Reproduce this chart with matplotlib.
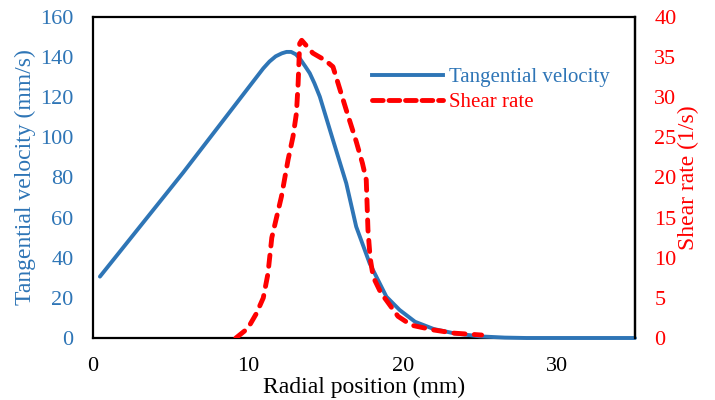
import matplotlib
matplotlib.use("Agg")
import matplotlib.pyplot as plt
from matplotlib.lines import Line2D

plt.rcParams['font.family'] = ['Liberation Serif', 'DejaVu Serif']

# Tangential velocity (mm/s) vs radial position (mm)
vel_x = [0.45, 5.83, 11.0, 11.4, 11.8, 12.2, 12.5, 12.8, 13.1, 13.35, 13.7, 14.0, 14.3,
         14.65, 15.5, 16.36, 17.0, 17.87, 18.95, 19.8, 20.8, 22.0, 23.35, 25.0, 26.6,
         28.0, 35.0]
vel_y = [30.6, 82.5, 134.4, 137.8, 140.4, 141.9, 142.6, 142.6, 141.4, 139.4, 135.5,
         132.0, 127.0, 120.3, 98.7, 77.1, 55.5, 37.2, 20.6, 14.0, 8.1, 4.5, 2.3, 0.8,
         0.2, 0.0, 0.0]

# Shear rate (1/s) vs radial position (mm)
shear_x = [9.23, 10.0, 10.56, 11.0, 11.3, 11.55, 12.17, 12.6, 12.92, 13.14, 13.25,
           13.35, 13.48, 14.2, 15.0, 15.5, 16.36, 17.0, 17.4, 17.65, 17.76, 17.9,
           18.1, 18.6, 18.95, 19.7, 20.56, 22.0, 23.35, 25.1]
shear_y = [0.0, 1.2, 3.07, 5.0, 8.0, 12.5, 17.6, 22.2, 25.1, 28.0, 31.7,
           36.7, 37.1, 35.5, 34.6, 33.8, 28.4, 24.5, 21.8, 19.7, 13.5, 10.0,
           7.6, 5.6, 4.7, 2.7, 1.6, 1.0, 0.6, 0.37]

x_ticks = [0, 10, 20, 30]
left_ticks = [0, 20, 40, 60, 80, 100, 120, 140, 160]
right_ticks = [0, 5, 10, 15, 20, 25, 30, 35, 40]

blue = '#2E75B6'
red = '#FF0000'

fig = plt.figure(figsize=(7.15, 4.0), dpi=100)
ax1 = fig.add_axes([0.130, 0.155, 0.758, 0.8025])
ax2 = ax1.twinx()

ax1.plot(vel_x, vel_y, color=blue, lw=2.8, solid_capstyle='round',
         solid_joinstyle='round', zorder=3, clip_on=False)
ax2.plot(shear_x, shear_y, color=red, lw=3.5, linestyle=(0, (2.3, 1.9)),
         dash_capstyle='round', dash_joinstyle='round', zorder=3)

ax1.set_xlim(0, 35)
ax1.set_ylim(0, 160)
ax2.set_ylim(0, 40)
ax1.set_xticks(x_ticks)
ax1.set_yticks(left_ticks)
ax2.set_yticks(right_ticks)

for sp in ax1.spines.values():
    sp.set_color('black')
    sp.set_linewidth(1.6)
for name in ['top', 'bottom', 'left']:
    ax2.spines[name].set_visible(False)
ax2.spines['right'].set_linewidth(1.6)

ax1.tick_params(axis='x', length=0, pad=14, labelsize=16, labelcolor='black')
ax1.tick_params(axis='y', length=0, pad=14, labelsize=16, labelcolor=blue)
ax2.tick_params(axis='y', length=0, pad=14, labelsize=16, labelcolor=red)

ax1.set_xlabel('Radial position (mm)', fontsize=17, labelpad=0.5)
ax1.set_ylabel('Tangential velocity (mm/s)', fontsize=17, color=blue, labelpad=3)
ax2.set_ylabel('Shear rate (1/s)', fontsize=17, color=red, labelpad=1)

handles = [Line2D([], [], color=blue, lw=2.8),
           Line2D([], [], color=red, lw=3.5, linestyle=(0, (2.2, 1.2)),
                  dash_capstyle='round')]
leg = ax2.legend(handles, ['Tangential velocity', 'Shear rate'], loc='upper left',
                 bbox_to_anchor=(0.5, 0.868), frameon=False, fontsize=15,
                 handlelength=3.4, handletextpad=0.3, labelspacing=0.25,
                 borderaxespad=0)
for txt, c in zip(leg.get_texts(), [blue, red]):
    txt.set_color(c)

fig.savefig('out.png', dpi=100)
